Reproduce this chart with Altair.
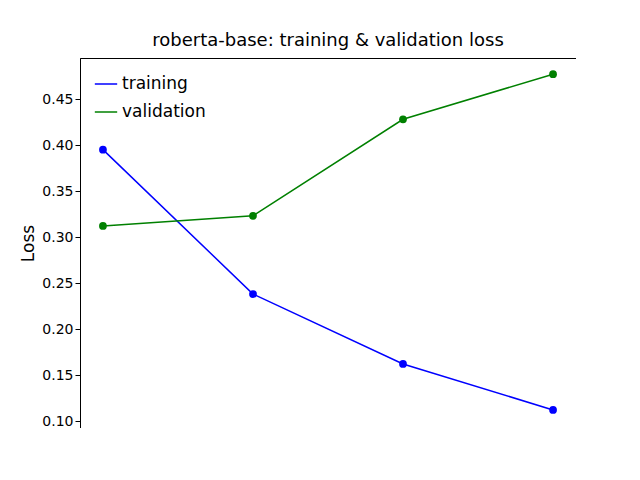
import altair as alt
import pandas as pd

epochs = [1, 2, 3, 4]
training = [0.395, 0.238, 0.162, 0.112]
validation = [0.312, 0.323, 0.428, 0.477]

df = pd.DataFrame({
    "epoch": epochs * 2,
    "loss": training + validation,
    "series": ["training"] * 4 + ["validation"] * 4,
})

chart = alt.Chart(df).mark_line(point=alt.OverlayMarkDef(size=60, filled=True, opacity=1), strokeWidth=1.5).encode(
    x=alt.X("epoch:Q", title="Epoch", scale=alt.Scale(domain=[0.847, 4.153], nice=False, zero=False),
            axis=alt.Axis(values=epochs, format="d")),
    y=alt.Y("loss:Q", title="Loss", scale=alt.Scale(domain=[0.0924, 0.4946], nice=False, zero=False),
            axis=alt.Axis(values=[0.10, 0.15, 0.20, 0.25, 0.30, 0.35, 0.40, 0.45], format=".2f")),
    color=alt.Color("series:N", scale=alt.Scale(domain=["training", "validation"], range=["#0000ff", "#008000"]),
                    legend=alt.Legend(title=None, orient="top-left", labelFontSize=17, symbolType="stroke",
                                      symbolStrokeWidth=1.5, symbolSize=500, rowPadding=8, offset=14)),
).properties(
    width=496, height=370,
    autosize=alt.AutoSizeParams(type="none"),
    padding={"left": 72, "top": 50, "right": 0, "bottom": 0},
    title=alt.TitleParams("roberta-base: training & validation loss", fontSize=18, fontWeight="normal", offset=8),
).configure_axis(
    grid=False, labelFontSize=14, titleFontSize=17, titleFontWeight="normal",
    domainColor="black", tickColor="black", labelColor="black", titleColor="black",
    labelFont="DejaVu Sans", titleFont="DejaVu Sans", tickSize=5,
).configure_title(font="DejaVu Sans").configure_legend(labelFont="DejaVu Sans").configure_view(
    stroke="black", strokeWidth=1
)

chart.save("out.html", embed_options={"renderer": "svg", "actions": False})
